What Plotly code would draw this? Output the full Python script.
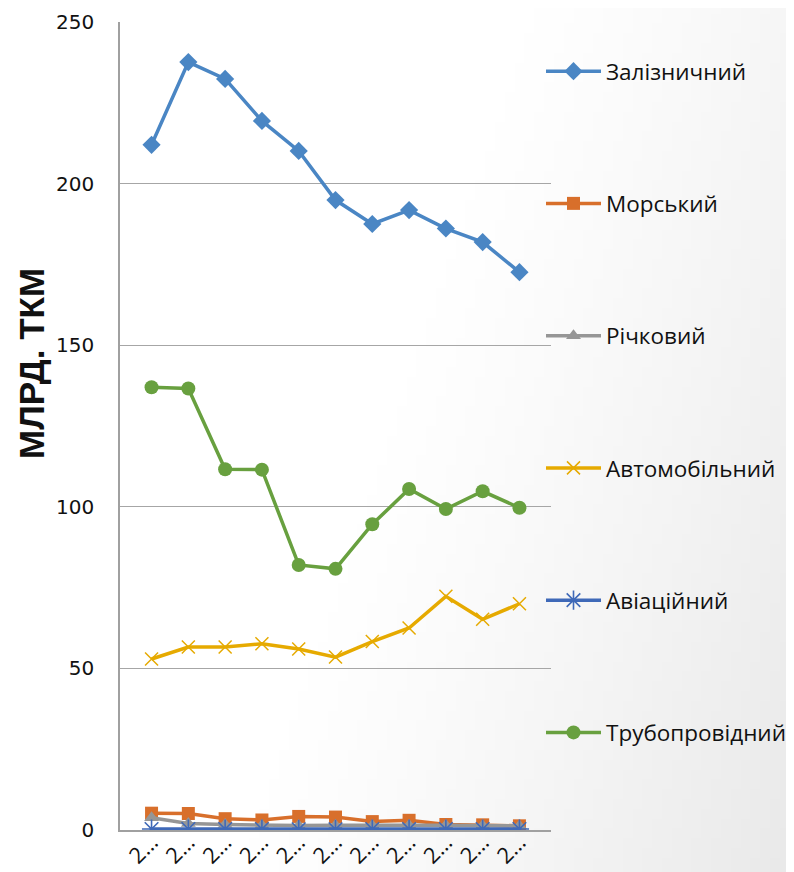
import base64, struct, zlib
import plotly.graph_objects as go

years = ["2010", "2011", "2012", "2013", "2014", "2015", "2016", "2017", "2018", "2019", "2020"]
tick_labels = ["2…"] * len(years)

zaliznychnyi = [212.0, 237.6, 232.4, 219.4, 210.1, 194.9, 187.5, 191.8, 186.1, 181.9, 172.6]
morskyi = [5.2, 5.1, 3.5, 3.1, 4.2, 4.0, 2.6, 3.0, 1.7, 1.6, 1.3]
richkovyi = [3.8, 2.0, 1.7, 1.5, 1.4, 1.5, 1.4, 1.5, 1.5, 1.4, 1.3]
avtomobilnyi = [52.9, 56.6, 56.6, 57.6, 56.0, 53.5, 58.3, 62.5, 72.3, 65.2, 70.0]
aviatsiinyi = [0.3, 0.3, 0.3, 0.3, 0.2, 0.2, 0.3, 0.3, 0.3, 0.3, 0.3]
truboprovidnyi = [137.0, 136.6, 111.6, 111.5, 82.0, 80.8, 94.6, 105.5, 99.3, 104.8, 99.7]

# page body has an 8px default margin, so the figure is drawn 8px in from the corner
W_PX, H_PX = 786, 864
L, R, T, B = 112, 243, 14, 42
PW, PH = W_PX - L - R, H_PX - T - B


def gradient_png(w=80, h=88):
    rows = b""
    for j in range(h):
        row = bytearray([0])
        for i in range(w):
            s = ((i / (w - 1)) * 0.8 + (j / (h - 1)) * 0.3 - 0.52) / 0.58
            s = max(0.0, min(1.0, s))
            row.append(int(round(255 - 22 * s ** 1.2)))
        rows += bytes(row)

    def chunk(tag, data):
        c = tag + data
        return struct.pack(">I", len(data)) + c + struct.pack(">I", zlib.crc32(c) & 0xFFFFFFFF)

    png = b"\x89PNG\r\n\x1a\n"
    png += chunk(b"IHDR", struct.pack(">IIBBBBB", w, h, 8, 0, 0, 0, 0))
    png += chunk(b"IDAT", zlib.compress(rows, 9))
    png += chunk(b"IEND", b"")
    return "data:image/png;base64," + base64.b64encode(png).decode()


series = [
    ("Залізничний", zaliznychnyi, "#4a86c4", dict(symbol="diamond", size=14)),
    ("Морський", morskyi, "#d86f2b", dict(symbol="square", size=13)),
    ("Річковий", richkovyi, "#969696", dict(symbol="triangle-up", size=13)),
    ("Автомобільний", avtomobilnyi, "#e6aa00", dict(symbol="x-thin", size=13, line=dict(width=1.5, color="#e6aa00"))),
    ("Авіаційний", aviatsiinyi, "#3f69b8", dict(symbol="asterisk", size=16, line=dict(width=1.6, color="#3f69b8"))),
    ("Трубопровідний", truboprovidnyi, "#68a03f", dict(symbol="circle", size=14)),
]

fig = go.Figure()
for i, (name, vals, color, mk) in enumerate(series):
    m = dict(color=color, **mk)
    fig.add_trace(go.Scatter(
        x=years, y=vals, name=name, mode="lines+markers",
        line=dict(color=color, width=3.5), marker=m,
        legendgroup=f"g{i}",
    ))

fig.update_layout(
    width=W_PX, height=H_PX,
    margin=dict(l=L, r=R, t=T, b=B, autoexpand=False),
    paper_bgcolor="white",
    plot_bgcolor="rgba(0,0,0,0)",
    font=dict(family="Open Sans, Noto Sans, sans-serif", color="#111111"),
    showlegend=True,
    legend=dict(
        x=(533 - L) / PW, y=(H_PX - B - 42) / PH, xanchor="left", yanchor="top",
        font=dict(size=22.5, family="Open Sans, sans-serif", color="#111111"),
        tracegroupgap=100, itemwidth=55, bgcolor="rgba(0,0,0,0)",
    ),
    images=[dict(
        source=gradient_png(), xref="paper", yref="paper",
        x=-L / PW, y=1 + T / PH,
        sizex=W_PX / PW, sizey=H_PX / PH,
        xanchor="left", yanchor="top", sizing="stretch", layer="below",
    )],
    annotations=[dict(
        text="<b>МЛРД. ТКМ</b>", textangle=-90, xref="paper", yref="paper",
        x=(23 - L) / PW, y=(H_PX - B - 356) / PH, xanchor="center", yanchor="middle",
        showarrow=False,
        font=dict(size=35, family="Liberation Sans Narrow, Liberation Sans, sans-serif", color="#111111"),
    )],
)

fig.update_xaxes(
    type="category", tickvals=years, ticktext=tick_labels, tickangle=-45,
    showline=True, linecolor="#a0a0a0", linewidth=1.5, showgrid=False,
    tickfont=dict(size=22, family="Open Sans, sans-serif", color="#111111"),
    ticks="", zeroline=False, automargin=False, ticklabelstandoff=-11,
)
fig.update_yaxes(
    range=[0, 250], tickvals=[0, 50, 100, 150, 200, 250],
    showline=True, linecolor="#a0a0a0", linewidth=1.5,
    showgrid=True, gridcolor="#a6a6a6", gridwidth=1.2, zeroline=False,
    tickfont=dict(size=20, family="DejaVu Sans, sans-serif", color="#111111"),
    ticks="", ticklabelstandoff=20, automargin=False,
)

fig.write_html("out.html")
